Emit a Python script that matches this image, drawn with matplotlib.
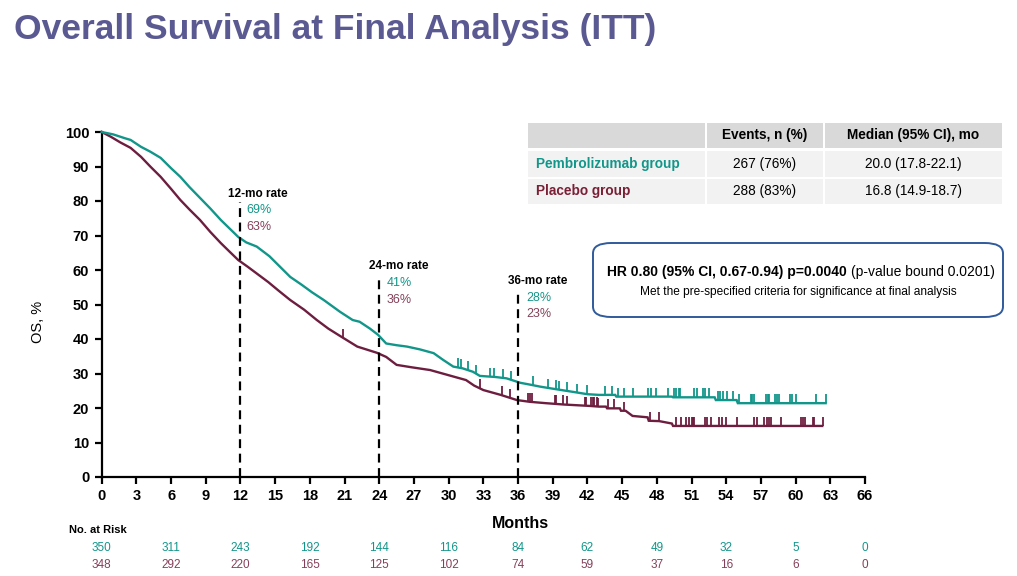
import matplotlib
matplotlib.use("Agg")
import matplotlib.pyplot as plt
import matplotlib.transforms as mtransforms
from matplotlib.patches import Rectangle, FancyBboxPatch
import numpy as np

plt.rcParams['font.family'] = ['Liberation Sans', 'DejaVu Sans']

# ---------------- data ----------------
pembro_t = [0, 1, 2, 2.5, 3.4, 4.2, 5.1, 6, 6.8, 7.6, 8.5, 9.4, 10.3, 11.8, 12.5, 13.4, 14.5,
            15.4, 16.3, 17.3, 18.2, 19.2, 20.6, 21.7, 22.3, 23.2, 23.9, 24.6, 25.5, 26.4, 27.5,
            28.7, 29.5, 30.4, 31.2, 32.1, 32.7, 34, 35, 36.2, 37, 37.9, 39, 40.7, 42, 43, 44.4,
            44.5, 49.3, 49.4, 53.0, 53.1, 54.9, 55, 62.6]
pembro_s = [100, 99.3, 98.2, 97.7, 95.7, 94.3, 92.5, 89.5, 87, 84, 80.9, 77.8, 74.5, 69.6, 68,
            66.8, 64, 61, 58, 55.7, 53.5, 51.3, 47.9, 45.5, 45, 43, 41.2, 38.7, 38.2, 37.8, 37,
            35.9, 34, 32, 31.5, 30.5, 29.3, 29, 28.6, 27.3, 26.8, 26.2, 25.6, 24.7, 24, 23.8,
            23.8, 23.3, 23.3, 23.1, 23.1, 22.3, 22.3, 21.4, 21.4]
placebo_t = [0, 0.8, 1.6, 2.5, 3.4, 4.2, 5.1, 6, 6.8, 7.6, 8.5, 9.4, 10.3, 11, 11.8, 12.6, 13.4,
             14.4, 15.3, 16.3, 17.5, 18.6, 19.6, 20.6, 22.1, 23.8, 24.6, 25.5, 26.8, 28.4, 30,
             31.5, 32.2, 33, 34.5, 35.9, 37, 38.4, 40, 42.2, 43, 43.6, 43.7, 44.8, 44.9, 45.3,
             45.9, 47.2, 47.3, 48.2, 49.3, 49.4, 62.3]
placebo_s = [100, 98.6, 97, 95.4, 92.8, 90, 87, 83.5, 80.3, 77.5, 74.5, 71, 67.8, 65.5, 62.9, 61,
             59, 56.5, 54, 51.3, 48.5, 45.5, 43, 40.9, 37.8, 36.0, 34.8, 32.5, 31.8, 31, 29.5,
             28.1, 26.5, 25.2, 23.8, 22.3, 21.8, 21.4, 21, 20.6, 20.4, 20.4, 19.9, 19.9, 19.2,
             19.2, 17.7, 17.3, 16.3, 16.2, 15.5, 14.8, 14.8]
pembro_cens = [30.8, 31.1, 31.7, 32.4, 33.6, 33.9, 34.7, 35.4, 37.3, 38.6, 39.3, 39.5, 40.2,
               41.1, 42.0, 43.5, 44.1, 44.6, 45.2, 45.9, 47.2, 47.5, 47.9, 49.0, 49.5, 49.7,
               49.9, 50.0, 51.2, 51.5, 52.0, 52.2, 52.5, 53.3, 53.5, 53.7, 54.1, 54.6, 55.1,
               56.1, 56.2, 56.4, 57.4, 57.6, 57.7, 58.2, 58.4, 58.6, 59.5, 59.7, 60.0, 61.8, 62.6]
placebo_cens = [20.9, 32.7, 34.6, 35.3, 36.9, 37.0, 37.2, 39.2, 39.3, 39.9, 40.2, 41.8, 41.9,
                42.3, 42.5, 42.6, 42.8, 42.9, 43.8, 44.3, 45.2, 47.4, 48.2, 49.7, 50.1, 50.5,
                50.8, 51.0, 51.1, 51.2, 52.2, 52.3, 52.7, 53.4, 53.6, 54.0, 54.9, 56.4, 56.7,
                57.3, 57.5, 57.7, 57.9, 58.7, 60.5, 60.6, 60.8, 61.5, 61.6, 62.4]
risk_months = [0, 6, 12, 18, 24, 30, 36, 42, 48, 54, 60, 66]
risk_pembro = [350, 311, 243, 192, 144, 116, 84, 62, 49, 32, 5, 0]
risk_placebo = [348, 292, 220, 165, 125, 102, 74, 59, 37, 16, 6, 0]
rate_months = [12, 24, 36]
rate_pembro = ["69%", "41%", "28%"]
rate_placebo = ["63%", "36%", "23%"]
table_header = ["Events, n (%)", "Median (95% CI), mo"]
table_groups = ["Pembrolizumab group", "Placebo group"]
table_events = ["267 (76%)", "288 (83%)"]
table_median = ["20.0 (17.8-22.1)", "16.8 (14.9-18.7)"]

TEAL = "#12968A"
MAROON = "#6D1E3F"
MAROON_TXT = "#84405A"
TITLE_C = "#5B5992"

W, H = 1017, 576
fig = plt.figure(figsize=(W / 100, H / 100), dpi=100)


def fx(px):
    return px / W


def fy(py):
    return 1 - py / H


ax = fig.add_axes([fx(101.7), fy(477), fx(865) - fx(101.7), fy(132) - fy(477)])
ax.set_xlim(0, 66)
ax.set_ylim(0, 100)


def curve_val(t, ts, ss):
    return float(np.interp(t, ts, ss))


for ts, ss, cens, col in [(placebo_t, placebo_s, placebo_cens, MAROON),
                          (pembro_t, pembro_s, pembro_cens, TEAL)]:
    ax.plot(ts, ss, color=col, lw=1.7, clip_on=False, zorder=3, solid_joinstyle='miter')
    cy = [curve_val(c, ts, ss) for c in cens]
    ax.vlines(cens, cy, np.array(cy) + 2.6, color=col, lw=1.3, zorder=3)

# dashed landmark lines
line_tops = [79.8, 58.6, 54.2]
for m, top in zip(rate_months, line_tops):
    ax.plot([m, m], [0, top], color='black', lw=1.6, ls=(0, (4, 2.5)), zorder=4)

label_pos = [(10.92, 82.0, 12.48, 77.4, 72.6),
             (23.1, 61.2, 24.6, 56.2, 51.3),
             (35.1, 56.9, 36.7, 52.0, 47.2)]
for m, lp, pp, pl in zip(rate_months, label_pos, rate_pembro, rate_placebo):
    xl, yl, xp, yp1, yp2 = lp
    ax.text(xl, yl, f"{m}-mo rate", fontsize=8.5, fontweight='bold', va='center', ha='left')
    ax.text(xp, yp1, pp, fontsize=9, color=TEAL, va='center', ha='left')
    ax.text(xp, yp2, pl, fontsize=9, color=MAROON_TXT, va='center', ha='left')

ax.set_xticks(range(0, 67, 3))
ax.set_yticks(range(0, 101, 10))
for s in ['top', 'right']:
    ax.spines[s].set_visible(False)
for s in ['left', 'bottom']:
    ax.spines[s].set_linewidth(1.6)
ax.tick_params(axis='both', width=1.6, length=5, labelsize=10.5, pad=4)
for lab in ax.get_xticklabels() + ax.get_yticklabels():
    lab.set_fontweight('bold')

# axis labels
fig.text(fx(520), fy(523), "Months", fontsize=11.5, fontweight='bold', ha='center', va='center')
fig.text(fx(38), fy(322), "OS, %", fontsize=10.5, rotation=90, ha='center', va='center')

# title
fig.text(fx(14), fy(29), "Overall Survival at Final Analysis (ITT)", fontsize=25.5,
         fontweight='bold', color=TITLE_C, ha='left', va='center')

# number at risk
fig.text(fx(69), fy(530), "No. at Risk", fontsize=8, fontweight='bold', ha='left', va='center')
trans = mtransforms.blended_transform_factory(ax.transData, fig.transFigure)
for m, a, b in zip(risk_months, risk_pembro, risk_placebo):
    ax.text(m, fy(548), str(a), transform=trans, fontsize=8.5, color=TEAL,
            ha='center', va='center', clip_on=False)
    ax.text(m, fy(565), str(b), transform=trans, fontsize=8.5, color=MAROON_TXT,
            ha='center', va='center', clip_on=False)

# table
def rect(x0, y0, x1, y1, color):
    fig.patches.append(Rectangle((fx(x0), fy(y1)), fx(x1) - fx(x0), fy(y0) - fy(y1),
                                 transform=fig.transFigure, facecolor=color, edgecolor='none',
                                 zorder=0))

cols = [(528, 705), (707, 823), (825, 1002)]
rows = [(123, 148), (151, 177), (179, 204)]
for ri, (r0, r1) in enumerate(rows):
    for (c0, c1) in cols:
        rect(c0, r0, c1, r1, "#D9D9D9" if ri == 0 else "#F2F2F2")

fig.text(fx((cols[1][0] + cols[1][1]) / 2), fy(135.5), table_header[0], fontsize=9.8,
         fontweight='bold', ha='center', va='center')
fig.text(fx((cols[2][0] + cols[2][1]) / 2), fy(135.5), table_header[1], fontsize=9.8,
         fontweight='bold', ha='center', va='center')
for i, (g, e, md) in enumerate(zip(table_groups, table_events, table_median)):
    yc = (rows[i + 1][0] + rows[i + 1][1]) / 2
    fig.text(fx(536), fy(yc), g, fontsize=9.8, fontweight='bold',
             color=TEAL if i == 0 else "#7A1F35", ha='left', va='center')
    fig.text(fx((cols[1][0] + cols[1][1]) / 2), fy(yc), e, fontsize=9.8, ha='center', va='center')
    fig.text(fx((cols[2][0] + cols[2][1]) / 2), fy(yc), md, fontsize=9.8, ha='center', va='center')

# HR box
box = FancyBboxPatch((fx(593), fy(317)), fx(1003) - fx(593), fy(243) - fy(317),
                     boxstyle="round,pad=0,rounding_size=0.018", transform=fig.transFigure,
                     facecolor='white', edgecolor='#2F5A9C', lw=1.4, zorder=1)
fig.patches.append(box)
t1 = fig.text(fx(607), fy(272), "HR 0.80 (95% CI, 0.67-0.94) p=0.0040", fontsize=10,
              fontweight='bold', ha='left', va='center')
fig.canvas.draw()
bb = t1.get_window_extent()
fig.text(bb.x1 / W + fx(4), fy(272), "(p-value bound 0.0201)", fontsize=10,
         ha='left', va='center')
fig.text(fx(798), fy(292), "Met the pre-specified criteria for significance at final analysis",
         fontsize=8.6, ha='center', va='center')

fig.savefig("out.png", dpi=100)
